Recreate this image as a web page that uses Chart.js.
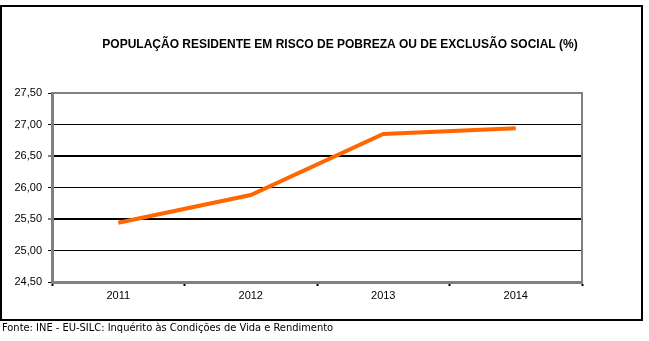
<!DOCTYPE html>
<html>
<head>
<meta charset="utf-8">
<script src="https://cdn.jsdelivr.net/npm/chart.js@4/dist/chart.umd.min.js"></script>
<style>
  body { margin: 0; background: #fff; }
  #wrap { position: absolute; left: 0; top: 0; width: 649px; height: 341px; }
</style>
</head>
<body>
<div id="wrap"><canvas id="povertyChart"></canvas></div>
<script>
// Dados do gráfico
const anos = ['2011', '2012', '2013', '2014'];
const risco = [25.44, 25.88, 26.85, 26.94];
const tituloGrafico = 'POPULAÇÃO RESIDENTE EM RISCO DE POBREZA OU DE EXCLUSÃO SOCIAL (%)';
const fonte = 'Fonte: INE - EU-SILC: Inquérito às Condições de Vida e Rendimento';

// Moldura, título e fonte desenhados à mão
const molduraPlugin = {
    id: 'moldura',
    afterDraw(chart) {
        const ctx = chart.ctx;
        const a = chart.chartArea;
        ctx.save();
        // moldura exterior
        ctx.strokeStyle = '#000';
        ctx.lineWidth = 2;
        ctx.strokeRect(1, 6, 641, 314);
        // contorno cinzento da área do gráfico (topo e direita)
        ctx.strokeStyle = '#808080';
        ctx.lineWidth = 2;
        ctx.beginPath();
        ctx.moveTo(a.left, a.top);
        ctx.lineTo(a.right, a.top);
        ctx.lineTo(a.right, a.bottom);
        ctx.stroke();
        // título
        ctx.fillStyle = '#000';
        ctx.font = 'bold 12px "Liberation Sans", Arial, sans-serif';
        ctx.textAlign = 'center';
        ctx.textBaseline = 'middle';
        ctx.fillText(tituloGrafico, 340, 45);
        // fonte
        ctx.font = '11px "DejaVu Sans Condensed", "Liberation Sans", sans-serif';
        ctx.textAlign = 'left';
        ctx.fillText(fonte, 2, 328);
        ctx.restore();
    }
};

const ctx = document.getElementById('povertyChart').getContext('2d');
const povertyChart = new Chart(ctx, {
    type: 'line',
    data: {
        labels: anos,
        datasets: [{
            data: risco,
            borderColor: '#FF6600',
            borderWidth: 4,
            pointRadius: 0,
            tension: 0,
            fill: false
        }]
    },
    options: {
        responsive: true,
        maintainAspectRatio: false,
        animation: false,
        layout: { padding: { top: 93, right: 67, bottom: 29, left: 0 } },
        plugins: {
            legend: { display: false },
            title: { display: false },
            tooltip: { enabled: false }
        },
        scales: {
            x: {
                offset: true,
                afterFit: (s) => { s.height = 30; },
                grid: {
                    offset: true,
                    drawOnChartArea: false,
                    drawTicks: true,
                    tickLength: 4,
                    tickColor: '#000',
                    tickWidth: 2
                },
                border: { color: '#808080', width: 3 },
                ticks: {
                    color: '#000',
                    padding: 3,
                    font: { family: '"Liberation Sans", Arial, sans-serif', size: 11 }
                }
            },
            y: {
                min: 24.5,
                max: 27.5,
                afterFit: (s) => { s.width = 52; },
                grid: {
                    color: (c) => (c.index === 0 || c.index === 6) ? 'rgba(0,0,0,0)' : '#000',
                    lineWidth: (c) => (c.index === 2 || c.index === 4) ? 2 : 1,
                    tickLength: 4,
                    tickColor: '#000',
                    tickWidth: 1
                },
                border: { color: '#808080', width: 3 },
                ticks: {
                    stepSize: 0.5,
                    color: '#000',
                    padding: 6,
                    font: { family: '"Liberation Sans", Arial, sans-serif', size: 11 },
                    callback: function(value) {
                        return value.toFixed(2).replace('.', ',');
                    }
                }
            }
        }
    },
    plugins: [molduraPlugin]
});
</script>
</body>
</html>
